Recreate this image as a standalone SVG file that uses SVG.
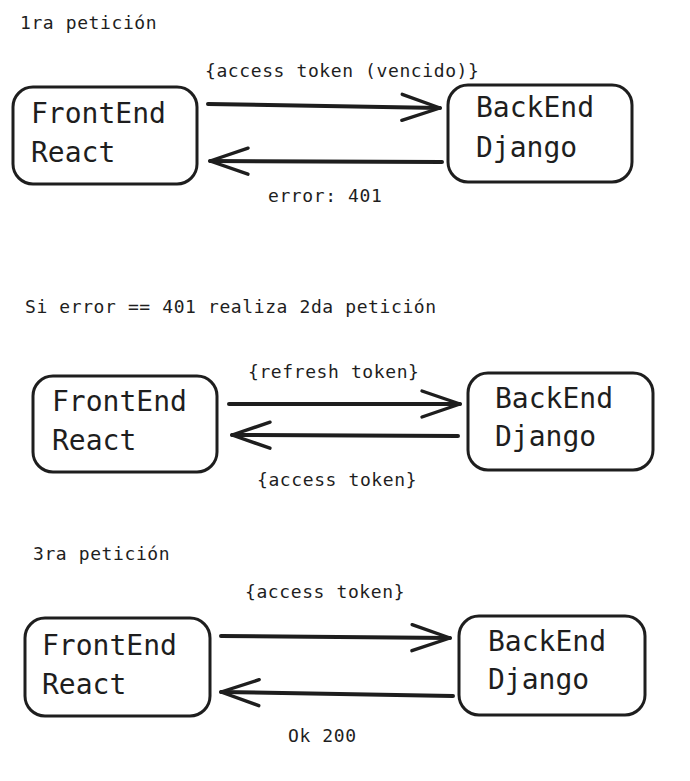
<svg xmlns="http://www.w3.org/2000/svg" width="690" height="781" viewBox="0 0 690 781">
<style>
.bg{fill:#ffffff}
.box{fill:none;stroke:#1e1e1e;stroke-width:3;stroke-linejoin:round}
.node{font-family:"DejaVu Sans Mono","Liberation Mono",monospace;font-size:28px;fill:#1e1e1e}
.lbl{font-family:"DejaVu Sans Mono","Liberation Mono",monospace;font-size:18px;letter-spacing:0.6px;fill:#1e1e1e}
.arr{fill:none;stroke:#1e1e1e;stroke-width:4;stroke-linecap:round;marker-end:url(#head)}
</style>
<defs>
<marker id="head" markerUnits="userSpaceOnUse" viewBox="-42 -16 46 32" refX="0" refY="0" markerWidth="46" markerHeight="32" orient="auto" overflow="visible">
<path d="M-38,-13 L0,0 L-38,13" fill="none" stroke="#1e1e1e" stroke-width="3.4" stroke-linecap="round" stroke-linejoin="round"/>
</marker>
</defs>
<rect class="bg" x="0" y="0" width="690" height="781"/>

<g id="titles">
<text class="lbl" x="20" y="29">1ra petición</text>
<text class="lbl" x="25" y="313">Si error == 401 realiza 2da petición</text>
<text class="lbl" x="33" y="560">3ra petición</text>
</g>

<g id="front1">
<rect class="box" x="13" y="87" width="184" height="97" rx="20"/>
<text class="node" x="31" y="123">FrontEnd</text>
<text class="node" x="31" y="162">React</text>
</g>
<g id="back1">
<rect class="box" x="448" y="85" width="184" height="97" rx="20"/>
<text class="node" x="476" y="117">BackEnd</text>
<text class="node" x="476" y="157">Django</text>
</g>

<g id="front2">
<rect class="box" x="33" y="376" width="184" height="96" rx="20"/>
<text class="node" x="52" y="411">FrontEnd</text>
<text class="node" x="52" y="450">React</text>
</g>
<g id="back2">
<rect class="box" x="468" y="373" width="185" height="97" rx="20"/>
<text class="node" x="495" y="408">BackEnd</text>
<text class="node" x="495" y="446">Django</text>
</g>

<g id="front3">
<rect class="box" x="25" y="618" width="185" height="98" rx="20"/>
<text class="node" x="42" y="655">FrontEnd</text>
<text class="node" x="42" y="694">React</text>
</g>
<g id="back3">
<rect class="box" x="459" y="616" width="186" height="99" rx="20"/>
<text class="node" x="488" y="651">BackEnd</text>
<text class="node" x="488" y="689">Django</text>
</g>

<g id="connectors">
<path class="arr" d="M208,104 L440,108"/>
<path class="arr" d="M442,162 L210,161"/>
<path class="arr" d="M229,404 L460,404"/>
<path class="arr" d="M458,436 L232,435"/>
<path class="arr" d="M221,636 L450,638"/>
<path class="arr" d="M453,696 L221,692"/>
</g>

<g id="labels">
<text class="lbl" x="205" y="77">{access token (vencido)}</text>
<text class="lbl" x="268" y="202">error: 401</text>
<text class="lbl" x="248" y="378">{refresh token}</text>
<text class="lbl" x="257" y="486">{access token}</text>
<text class="lbl" x="245" y="598">{access token}</text>
<text class="lbl" x="288" y="742">Ok 200</text>
</g>
</svg>
